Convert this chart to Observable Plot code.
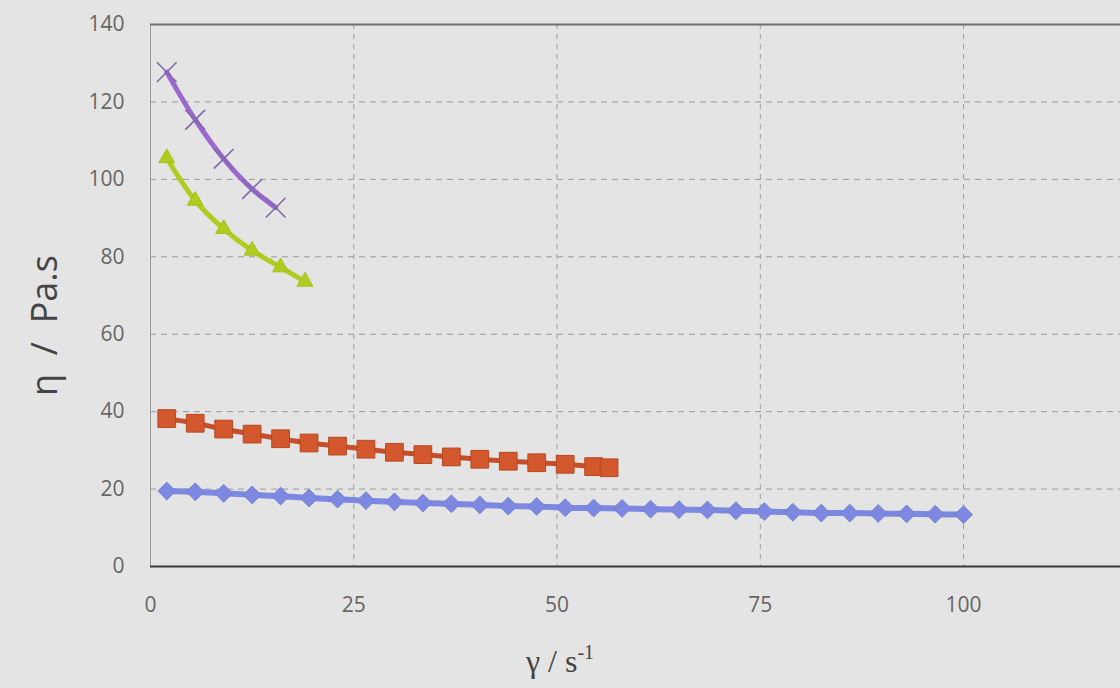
<!DOCTYPE html>
<html>
<head>
<meta charset="utf-8">
<script src="https://cdn.jsdelivr.net/npm/d3@7"></script>
<script src="https://cdn.jsdelivr.net/npm/@observablehq/plot@0.6"></script>
<style>
  html, body { margin: 0; padding: 0; background: #e4e4e4; }
  #chart svg { display: block; }
</style>
</head>
<body>
<div id="chart"></div>
<script>
// Shear rate (s^-1) for each series
const blueX = [2, 5.5, 9, 12.5, 16, 19.5, 23, 26.5, 30, 33.5, 37, 40.5, 44, 47.5, 51, 54.5, 58, 61.5, 65, 68.5, 72, 75.5, 79, 82.5, 86, 89.5, 93, 96.5, 100];
const blueY = [19.5, 19.3, 18.9, 18.5, 18.2, 17.7, 17.4, 17.0, 16.7, 16.4, 16.2, 15.9, 15.6, 15.5, 15.2, 15.1, 15.0, 14.8, 14.7, 14.6, 14.4, 14.2, 14.0, 13.8, 13.8, 13.7, 13.6, 13.5, 13.4];

const redX = [2, 5.5, 9, 12.5, 16, 19.5, 23, 26.5, 30, 33.5, 37, 40.5, 44, 47.5, 51, 54.5, 56.4];
const redY = [38.2, 37.0, 35.5, 34.2, 33.0, 31.9, 31.1, 30.3, 29.5, 28.9, 28.3, 27.7, 27.2, 26.8, 26.4, 25.8, 25.5];

const greenX = [2, 5.5, 9, 12.5, 16, 19];
const greenY = [105.5, 94.5, 87.2, 81.6, 77.3, 73.6];

const purpleX = [2, 5.5, 9, 12.5, 15.4];
const purpleY = [127.7, 115.4, 105.3, 97.5, 92.7];

const xTicks = [0, 25, 50, 75, 100];
const yTicks = [0, 20, 40, 60, 80, 100, 120, 140];

const toRows = (xs, ys) => xs.map((x, i) => ({x, y: ys[i]}));
const blue = toRows(blueX, blueY);
const red = toRows(redX, redY);
const green = toRows(greenX, greenY);
const purple = toRows(purpleX, purpleY);

const chart = Plot.plot({
  width: 1120,
  height: 688,
  marginLeft: 150,
  marginRight: 0,
  marginTop: 24,
  marginBottom: 122,
  style: {background: "transparent", fontFamily: "'Open Sans', Lato, sans-serif", fontSize: "21px"},
  x: {domain: [0, 119.3]},
  y: {domain: [0, 140]},
  marks: [
    Plot.gridX(xTicks.filter(d => d > 0), {stroke: "#9a9a9a", strokeOpacity: 1, strokeDasharray: "5,5"}),
    Plot.gridY(yTicks.filter(d => d > 0 && d < 140), {stroke: "#9a9a9a", strokeOpacity: 1, strokeDasharray: "6,5"}),
    Plot.ruleX([0], {stroke: "#9a9a9a", strokeWidth: 1}),
    Plot.ruleY([140], {stroke: "#6e6e6e", strokeWidth: 2}),
    Plot.ruleY([0], {stroke: "#3a3a3a", strokeWidth: 2}),
    Plot.axisX({ticks: xTicks, tickSize: 0, tickPadding: 31, fontSize: 21, fill: "#666", label: null}),
    Plot.axisY({ticks: yTicks, tickSize: 0, tickPadding: 26, fontSize: 21, fill: "#666", label: null}),
    // blue
    Plot.line(blue, {x: "x", y: "y", stroke: "#7d88e0", strokeWidth: 6, curve: "catmull-rom"}),
    Plot.dot(blue, {x: "x", y: "y", symbol: "diamond2", r: 8, fill: "#7d88e0", stroke: "#7480da", strokeWidth: 1}),
    // red
    Plot.line(red, {x: "x", y: "y", stroke: "#c54f2a", strokeWidth: 5, curve: "catmull-rom"}),
    Plot.dot(red, {x: "x", y: "y", symbol: "square", r: 10, fill: "#d4582e", stroke: "#b8471f", strokeWidth: 1}),
    // green
    Plot.line(green, {x: "x", y: "y", stroke: "#aecd20", strokeWidth: 5, curve: "catmull-rom"}),
    Plot.dot(green, {x: "x", y: "y", symbol: "triangle2", r: 7.6, fill: "#aecd20", stroke: "#a3c31a", strokeWidth: 1}),
    // purple
    Plot.line(purple, {x: "x", y: "y", stroke: "#9a68cf", strokeWidth: 5, curve: "catmull-rom"}),
    Plot.dot(purple, {x: "x", y: "y", symbol: "times", r: 9, stroke: "#7e6aa8", strokeWidth: 1.6}),
    // y axis title
    Plot.text(["η  /  Pa.s"], {frameAnchor: "left", textAnchor: "middle", dx: -105, dy: 30, rotate: -90, fontSize: 36, fill: "#444", fontFamily: "'Open Sans', 'Noto Sans', sans-serif"})
  ]
});

const svg = d3.select(chart);
const xl = svg.append("text")
  .attr("x", 560).attr("y", 672)
  .attr("text-anchor", "middle")
  .style("font-family", "'Liberation Serif', 'DejaVu Serif', serif")
  .style("font-size", "32px")
  .style("fill", "#444");
xl.append("tspan").text("γ / s");
xl.append("tspan").style("font-size", "20px").attr("dy", -13).text("-1");

document.getElementById("chart").appendChild(chart);
</script>
</body>
</html>
